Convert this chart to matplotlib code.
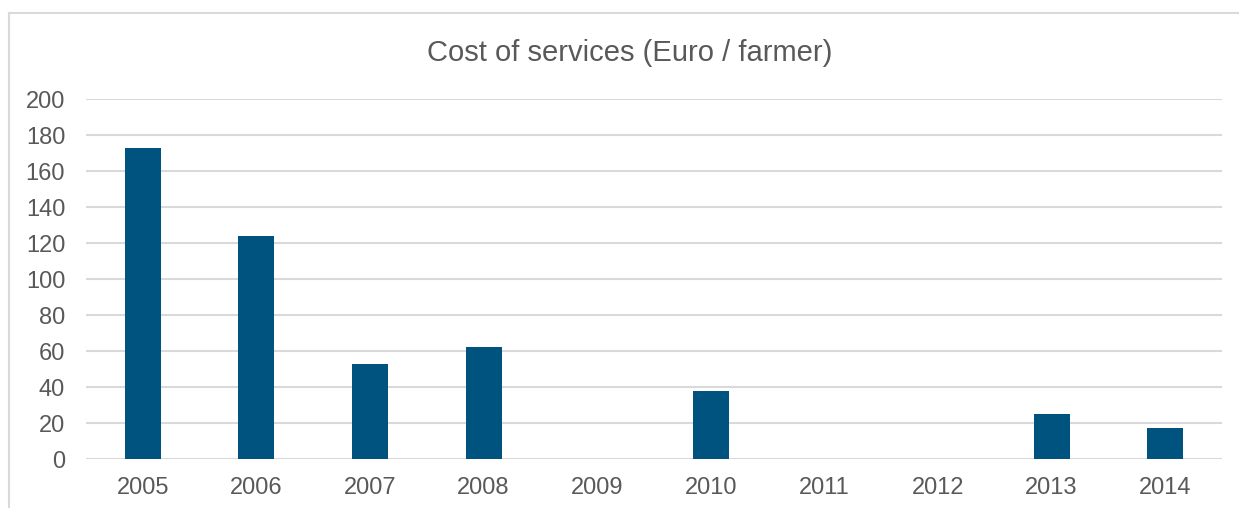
import matplotlib
matplotlib.use("Agg")
import matplotlib.pyplot as plt
from matplotlib.lines import Line2D
import numpy as np

years = ["2005", "2006", "2007", "2008", "2009", "2010", "2011", "2012", "2013", "2014"]
cost = [173, 124, 53, 62, 0, 38, 0, 0, 25, 17]
yticks = [0, 20, 40, 60, 80, 100, 120, 140, 160, 180, 200]

plt.rcParams['font.family'] = ['Liberation Sans', 'DejaVu Sans']
grey_txt = '#595959'
grid_col = '#D9D9D9'
bar_col = '#00527F'

fig = plt.figure(figsize=(12.39, 5.08), dpi=100)
ax = fig.add_axes([86 / 1239, 1 - 459 / 508, (1222 - 86) / 1239, (459 - 99) / 508])

x = np.arange(len(years))
ax.bar(x, cost, width=0.316, color=bar_col, zorder=3)

ax.set_xlim(-0.5, len(years) - 0.5)
ax.set_ylim(0, 200)
ax.set_yticks(yticks)
ax.set_xticks(x)
ax.set_xticklabels(years)
ax.grid(axis='y', color=grid_col, linewidth=1.5, zorder=0)
ax.tick_params(axis='both', length=0, labelsize=17, colors=grey_txt)
ax.tick_params(axis='y', pad=15)
ax.tick_params(axis='x', pad=13)
for s in ax.spines.values():
    s.set_visible(False)

fig.text(630 / 1239, 1 - 53 / 508, "Cost of services (Euro / farmer)",
         ha='center', va='center', fontsize=21, color=grey_txt)

# chart area frame (left and top edges only are in view)
fig.add_artist(Line2D([8.5 / 1239, 8.5 / 1239], [0, 1 - 12.5 / 508],
                      transform=fig.transFigure, color=grid_col, linewidth=1.5))
fig.add_artist(Line2D([8.5 / 1239, 1], [1 - 12.5 / 508, 1 - 12.5 / 508],
                      transform=fig.transFigure, color=grid_col, linewidth=1.5))

fig.savefig("out.png", dpi=100, facecolor='white')
